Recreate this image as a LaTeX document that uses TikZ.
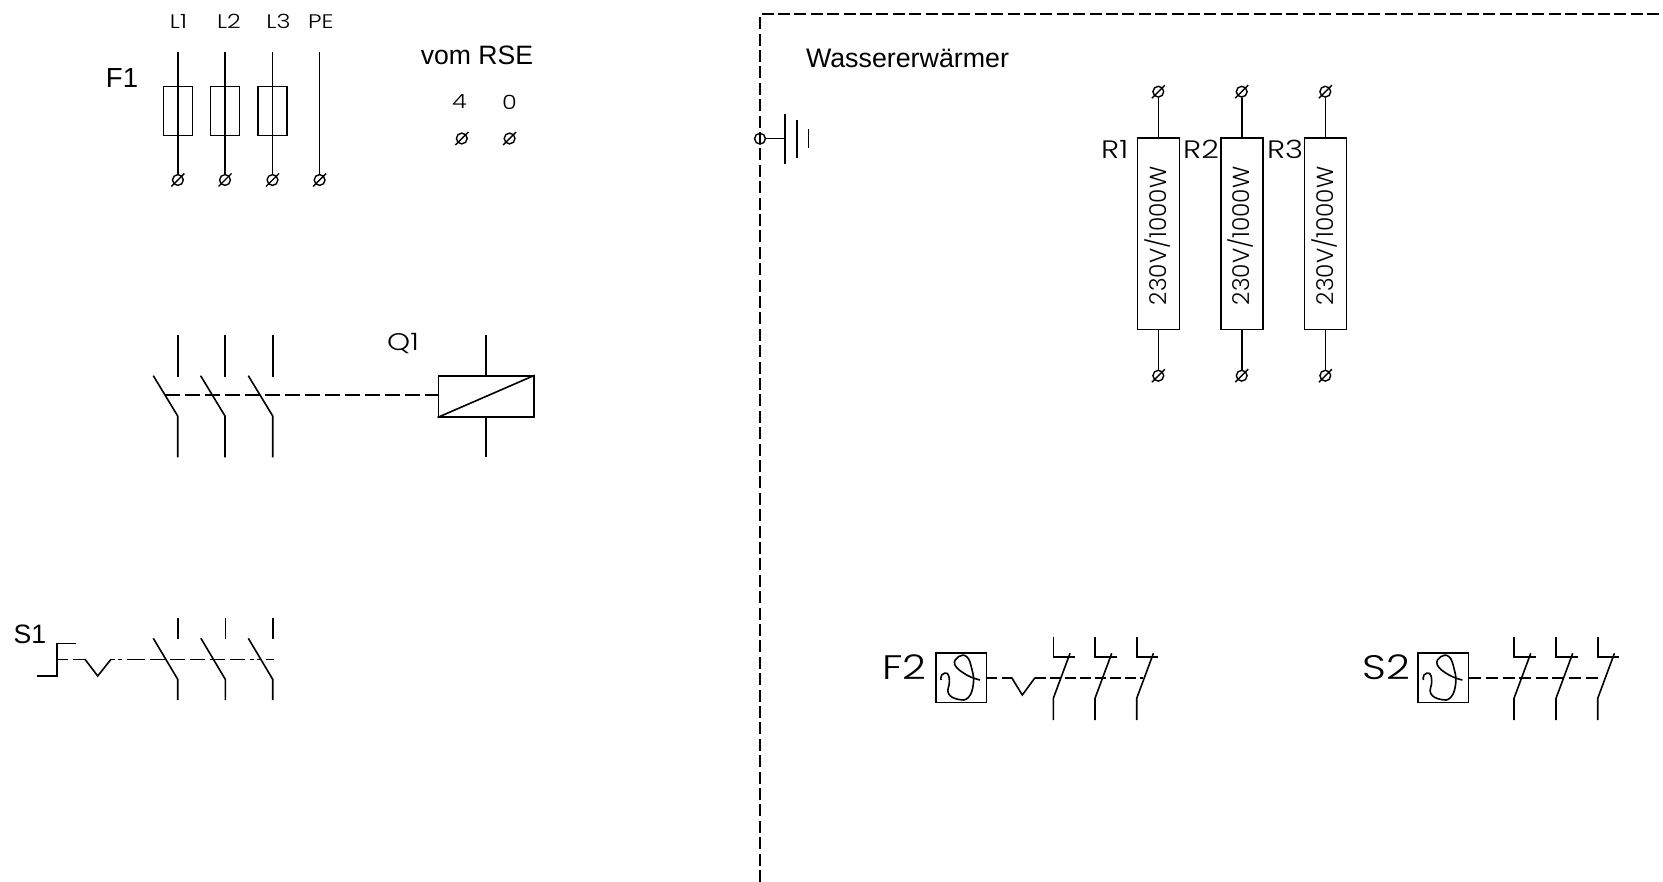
\documentclass[tikz,border=0pt]{standalone}
\usepackage{fontspec}
\setmainfont{Liberation Sans}
\newfontfamily\cadfont[FakeStretch=1.22]{Poppins Light}
\newfontfamily\cadplain{Poppins Light}
\newcommand{\fs}[1]{\fontsize{#1}{#1}\selectfont}
\usetikzlibrary{calc}
\tikzset{
  wire/.style={line width=0.8pt,line cap=butt},
  frameline/.style={line width=0.8pt,dash pattern=on 6pt off 2.2pt},
  linkA/.style={line width=0.8pt,dash pattern=on 7.5pt off 2.5pt},
  linkB/.style={line width=0.8pt,dash pattern=on 6pt off 2.3pt},
  fusebox/.style={draw,line width=0.8pt,rectangle,inner sep=0pt,minimum width=14.45pt,minimum height=24.5pt},
  resbox/.style={draw,line width=0.8pt,rectangle,inner sep=0pt,minimum width=21pt,minimum height=95.5pt},
  thermobox/.style={draw,line width=0.8pt,rectangle,inner sep=0pt,minimum width=25.3pt,minimum height=24.8pt},
  coilbox/.style={draw,line width=0.8pt,rectangle,inner sep=0pt,minimum width=47.85pt,minimum height=20.35pt},
  termdot/.style={circle,draw,line width=0.7pt,inner sep=0pt,minimum size=5.4pt},
  smalllabel/.style={inner sep=0pt,font=\cadfont\fs{9.8}},
  midlabel/.style={inner sep=0pt,font=\cadfont\fs{12.6}},
  biglabel/.style={inner sep=0pt,font=\cadfont\fs{17}},
  arial/.style={inner sep=0pt,font=\fs{13.3}},
}
% terminal with slash: name, x, y
\newcommand{\terminal}[3]{%
  \node[termdot] (#1) at (#2,#3) {};
  \draw[line width=0.7pt] ($(#1)+(-6.5,6.5)$) -- ($(#1)+(6.5,-6.5)$);
}
% opening contact: x of pole, y values
\newcommand{\nopole}[5]{% x, top start, top end, knee y, bottom y
  \coordinate (a) at (#1,#2); \coordinate (b) at (#1,#3);
  \coordinate (c) at (#1-24.4,#3-1); \coordinate (d) at (#1,#4); \coordinate (e) at (#1,#5);
  \draw[wire] (a) -- (b);
  \draw[wire] (c) -- (d) -- (e);
}
% thermal contact
\newcommand{\thpole}[1]{%
  \coordinate (p) at (#1,636.7); \coordinate (q) at (#1,656.7); \coordinate (r) at (#1+21.7,656.7);
  \coordinate (s) at (#1+16.7,653.3); \coordinate (t) at (#1,698.3); \coordinate (u) at (#1,720);
  \draw[wire] (p) -- (q) -- (r);
  \draw[wire] (s) -- (t) -- (u);
}
\newcommand{\thetacurve}[2]{%
  \draw[wire,rounded corners=0pt] plot[smooth,tension=0.75] coordinates {
    (#1+44.3,#2+27.3) (#1+31,#2+22.3) (#1+19.3,#2+12.3) (#1+22.7,#2+4) (#1+31,#2+4)
    (#1+36,#2+15.7) (#1+37.7,#2+30.7) (#1+32.7,#2+44.7) (#1+22.7,#2+46.7) (#1+12.7,#2+40.7)
    (#1+13.7,#2+29) (#1+11.7,#2+20.7) (#1+6,#2+22.3) (#1+5.3,#2+27.3)};
}
\begin{document}
\begin{tikzpicture}[x=0.5pt,y=-0.5pt]
\useasboundingbox (0,0) rectangle (1663,882);
% --- feed and fuses
\node[smalllabel] (tL1) at (178.5,21.7) {L1};
\node[smalllabel] (tL2) at (229,21.7) {L2};
\node[smalllabel] (tL3) at (278.5,21.7) {L3};
\node[smalllabel] (tPE) at (321,21.7) {PE};
\node[arial,font=\fs{13.8}] (tF1) at (122,78) {F1};
\node[arial] (tRSE) at (477,55) {vom RSE};
\node[smalllabel] (t4) at (459.5,102) {4};
\node[smalllabel] (t0) at (509.6,102) {0};
\foreach \n/\x in {1/177.9,2/225,3/272.5}{
  \node[fusebox] (fuse\n) at (\x,111.2) {};
  \coordinate (top\n) at (\x,51.7);
  \terminal{ft\n}{\x}{180}
  \draw[wire] (top\n) -- (ft\n);
}
\coordinate (topPE) at (319.6,51.7);
\terminal{ftPE}{319.6}{180}
\draw[wire] (topPE) -- (ftPE);
\terminal{rse4}{461.8}{138.5}
\terminal{rse0}{509.6}{138.5}
% --- contactor Q1
\node[midlabel,font=\cadfont\fs{12}] (tQ1) at (403,344) {Q1};
\foreach \x in {177.7,225,272.7}{\nopole{\x}{335}{376.7}{416}{457.3}}
\node[coilbox] (coil) at (486.15,396.35) {};
\draw[wire] (coil.south west) -- (coil.north east);
\coordinate (coilT) at (486,335); \coordinate (coilB) at (486,457.3);
\draw[wire] (coilT) -- (coil.north -| coilT);
\draw[wire] (coil.south -| coilB) -- (coilB);
\coordinate (linkQ) at (165,395);
\draw[linkA] (linkQ) -- (coil.west |- linkQ);
% --- S1
\node[arial] (tS1) at (30,634.5) {S1};
\coordinate (s1a) at (36.7,675.7); \coordinate (s1b) at (56.7,675.7);
\coordinate (s1c) at (56.7,643.3); \coordinate (s1d) at (76,643.3);
\draw[wire] (s1a) -- (s1b) -- (s1c) -- (s1d);
\coordinate (s1e) at (56.7,659.3); \coordinate (s1f) at (85,659.3);
\coordinate (s1g) at (97.7,676); \coordinate (s1h) at (111,659.3); \coordinate (s1i) at (273.5,659.3);
\draw[line width=0.8pt,dash pattern=on 5.5pt off 2.7pt on 5.5pt off 0pt] (s1e) -- (s1f);
\draw[wire] (s1f) -- (s1g) -- (s1h);
\draw[line width=0.8pt,dash pattern=on 2.2pt off 1.2pt on 2.2pt off 2.4pt on 9pt off 2.4pt on 7.5pt off 2.5pt on 7.5pt off 2.5pt on 7.5pt off 2.5pt on 7.5pt off 2.5pt on 7.5pt off 2.5pt] (s1h) -- (s1i);
\foreach \x in {177.7,225.3,272.7}{\nopole{\x}{618.3}{639.3}{679.3}{700}}
% --- frame
\coordinate (fr1) at (760,882); \coordinate (fr2) at (760,14.3); \coordinate (fr3) at (1663,14.3);
\draw[frameline] (fr1) -- (fr2) -- (fr3);
\node[arial,font=\fs{13.4}] (tWW) at (907.5,58) {Wassererwärmer};
% --- earth
\node[circle,draw,line width=0.7pt,inner sep=0pt,minimum size=5.4pt] (earth) at (760,138.7) {};
\coordinate (ea1) at (785,138.7); \coordinate (ea2) at (785,114); \coordinate (ea3) at (785,164);
\coordinate (eb2) at (796.7,120); \coordinate (eb3) at (796.7,157.7);
\coordinate (ec2) at (808.3,129.3); \coordinate (ec3) at (808.3,148.3);
\draw[wire] (earth) -- (ea1);
\draw[wire] (ea2) -- (ea3);
\draw[wire] (eb2) -- (eb3);
\draw[wire] (ec2) -- (ec3);
% --- resistors
\foreach \n/\x/\lx in {1/1158.3/1114.7,2/1241.7/1201,3/1325.3/1285}{
  \node[resbox] (R\n) at (\x,233.8) {};
  \node[inner sep=0pt,rotate=90,font=\cadplain\fs{11.6}] (Rt\n) at (\x-1,235.8) {230V/1000W};
  \node[midlabel] (RL\n) at (\lx,149.5) {R\n};
  \terminal{Rtop\n}{\x}{91.7}
  \terminal{Rbot\n}{\x}{375.7}
  \draw[wire] (Rtop\n) -- (R\n.north);
  \draw[wire] (R\n.south) -- (Rbot\n);
}
% --- F2
\node[biglabel] (tF2) at (904.5,667) {F2};
\node[thermobox] (th1) at (961,677.5) {};
\thetacurve{935.7}{652.7}
\coordinate (f2v1) at (1011.7,677.7); \coordinate (f2v2) at (1022.3,695);
\coordinate (f2v3) at (1035,677.7); \coordinate (f2end) at (1143,677.7);
\draw[line width=0.8pt,dash pattern=on 5pt off 2.5pt on 5pt off 0pt] (th1.east |- f2v1) -- (f2v1);
\draw[wire] (f2v1) -- (f2v2) -- (f2v3);
\draw[line width=0.8pt,dash pattern=on 5.5pt off 2pt] (f2v3) -- (f2end);
\foreach \x in {1053.3,1095,1136.7}{\thpole{\x}}
% --- S2
\node[biglabel] (tS2) at (1386.7,667) {S2};
\node[thermobox] (th2) at (1443.35,677.5) {};
\thetacurve{1418}{652.7}
\coordinate (s2end) at (1598.3,677.7);
\draw[linkB] (th2.east |- s2end) -- (s2end);
\foreach \x in {1514,1556,1597.7}{\thpole{\x}}
\end{tikzpicture}
\end{document}
